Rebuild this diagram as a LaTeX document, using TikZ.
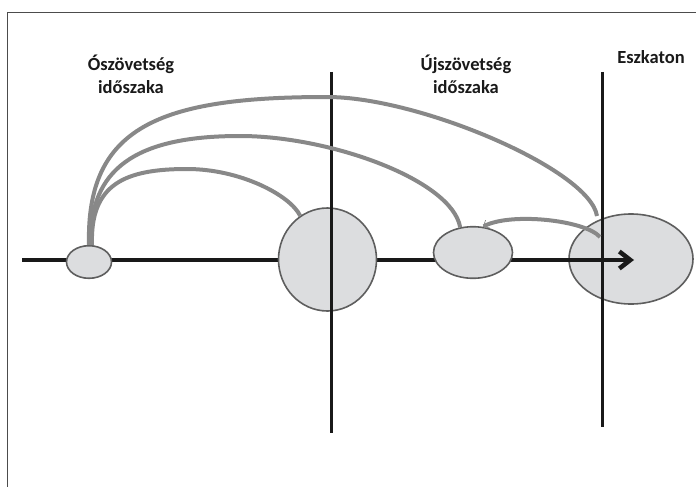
\documentclass[tikz,border=0pt]{standalone}
\usepackage{fontspec}
\setmainfont{Carlito}
\usetikzlibrary{shapes.geometric, arrows.meta}
\definecolor{blobfill}{HTML}{DCDDDF}
\definecolor{blobline}{HTML}{5E5E5E}
\definecolor{arcgray}{HTML}{888888}

\begin{document}
\begin{tikzpicture}[x=1pt, y=-1pt,
        blob/.style={ellipse, draw=blobline, fill=blobfill, line width=1.6pt, inner sep=0pt},
        link/.style={draw=arcgray, line width=4pt},
        era/.style={font=\fontsize{18.5}{23}\selectfont\bfseries, align=center, text=black!90},
        axisline/.style={line width=3.6pt, draw=black!90},
        rule/.style={line width=3pt, draw=black!90}]
        \useasboundingbox (0,0) rectangle (696,487);
        \begin{scope}
        \clip (0,0) rectangle (696,487);
        \draw [line width=0.9pt, draw=black!70] (7.5,12) rectangle (720,520);
        \end{scope}

        \coordinate (start) at (22,260);
        \coordinate (tip) at (634,260);
        \draw [axisline] (start) -- (tip);

        \node [blob, minimum width=45pt, minimum height=32.6pt] (e1) at (89,262) {};
        \node [blob, minimum width=98pt, minimum height=103pt] (e2) at (327.5,259.5) {};
        \node [blob, minimum width=79pt, minimum height=51.6pt] (e3) at (473,252.5) {};
        \node [blob, minimum width=124pt, minimum height=90pt] (e4) at (631,259) {};

        \draw [axisline, -{Straight Barb[length=11pt,width=17pt,line width=4.5pt]}] (tip -| e3.east) -- (tip);

        \coordinate (v1t) at (331,72);
        \coordinate (v1b) at (331,433);
        \coordinate (v2t) at (602,72);
        \coordinate (v2b) at (602,427);
        \draw [rule] (v1t) -- (v1b);
        \draw [rule] (v2t) -- (v2b);

        \coordinate (c3) at (597,216);
        \coordinate (d0) at (600,237);
        \draw [link] (e1.80) .. controls (90,184) and (125,169) .. (187,169)
        .. controls (240,169) and (290,195) .. (e2.122);
        \draw [link] (e1.85) .. controls (89,169) and (135,136) .. (240,136)
        .. controls (330,136) and (452,180) .. (e3.117);
        \draw [link] (e1.90) .. controls (86,127) and (159,97) .. (327,97)
        .. controls (420,97) and (590,170) .. (c3);
        \draw [link, -{Straight Barb[length=5pt,width=9pt,line width=0.7pt]}] (d0) .. controls (585,220) and (510,212) .. (e3.69);

        \node [era] (old) at (131,74.5) {Ószövetség\\időszaka};
        \node [era] (new) at (466,74.5) {Újszövetség\\időszaka};
        \node [era] (end) at (651,57) {Eszkaton};
\end{tikzpicture}
\end{document}
